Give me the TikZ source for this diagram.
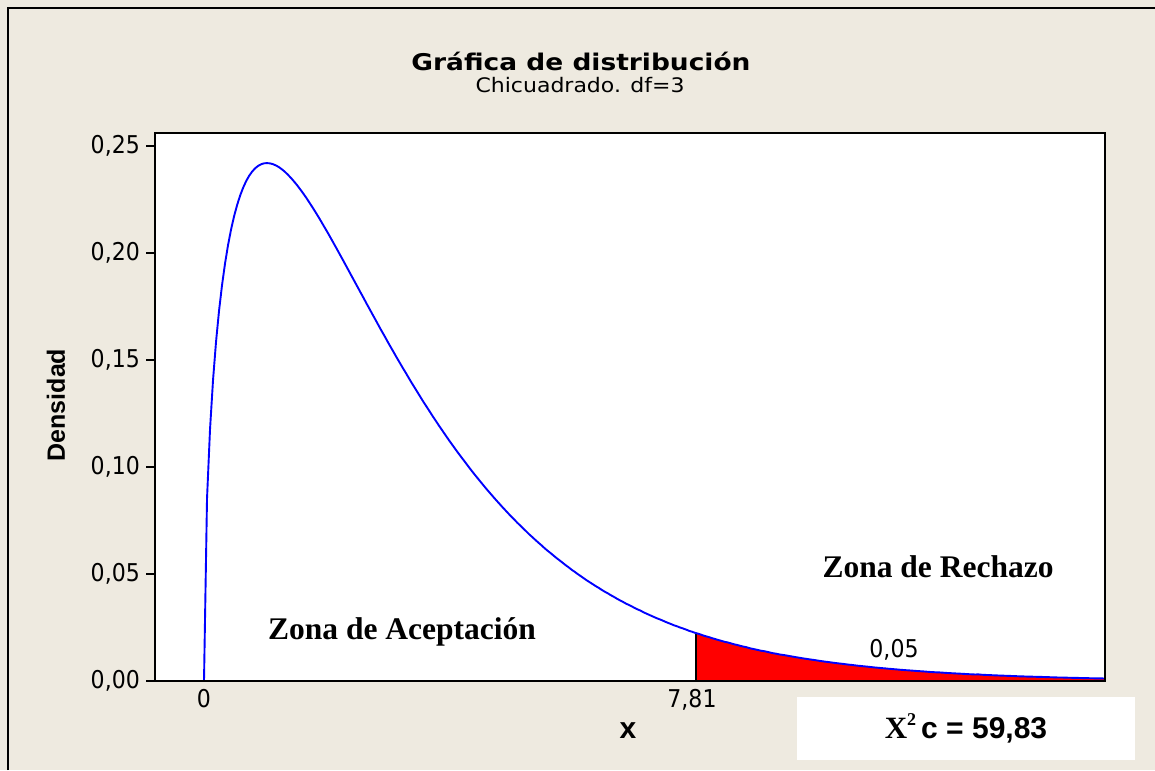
\documentclass[tikz,border=0pt]{standalone}
\usepackage{fontspec}
\newfontfamily\tah{DejaVu Sans}
\newfontfamily\ari{Liberation Sans}
\newfontfamily\tms{Liberation Serif}
\definecolor{bgbeige}{RGB}{238,234,224}
\begin{document}
\begin{tikzpicture}[x=1pt,y=1pt,
  declare function={chi(\t)=sqrt(\t)*exp(-\t/2)/2.5066;},
  frameline/.style={line width=1.8pt, black},
  ticklab/.style={font=\tah\fontsize{24.5}{28}\selectfont, inner sep=0pt, xscale=0.9},
  zonalab/.style={font=\tms\bfseries\fontsize{31.5}{36}\selectfont, inner sep=0pt},
  curveline/.style={blue, line width=1.9pt, line join=round}
]
\useasboundingbox (0,0) rectangle (1155,770);
\fill[bgbeige] (0,0) rectangle (1155,770);
% outer border (left and top)
\draw[line width=1.6pt] (8,0) -- (8,762) -- (1155,762);
% plot area
\fill[white] (155,89) rectangle (1105,637);
% red rejection region
\fill[red] (696,89) -- plot[domain=7.81:14.3, samples=80] ({204+63*\x},{89+2140*chi(\x)}) -- (1105,89) -- cycle;
% critical value line
\coordinate (critbase) at (696,89);
\coordinate (crittop) at ({696},{89+2140*chi(7.81)});
\draw[line width=1.4pt] (critbase) -- (crittop);
% density curve
\draw[curveline] (204,89) -- plot[domain=0:14.3, samples=300] ({204+63*\x},{89+2140*chi(\x)});
% frame
\draw[frameline] (155,89) rectangle (1105,637);
% y ticks
\foreach \yy in {89,196,303,410,517,624}{
  \draw[frameline] (146,\yy) -- (155,\yy);
}
\node[ticklab, anchor=base east] (y0) at (140,81) {0,00};
\node[ticklab, anchor=base east] (y1) at (140,188) {0,05};
\node[ticklab, anchor=base east] (y2) at (140,295) {0,10};
\node[ticklab, anchor=base east] (y3) at (140,402) {0,15};
\node[ticklab, anchor=base east] (y4) at (140,509) {0,20};
\node[ticklab, anchor=base east] (y5) at (140,616) {0,25};
% x tick labels
\node[ticklab, anchor=base] (x0) at (204,62) {0};
\node[ticklab, anchor=base] (x1) at (692,62) {7,81};
% axis labels
\node[font=\ari\bfseries\fontsize{30}{34}\selectfont, anchor=base, inner sep=0pt] (xlab) at (628,31) {x};
\node[font=\ari\bfseries\fontsize{25}{29}\selectfont, rotate=90, inner sep=0pt] (ylab) at (56,365) {Densidad};
% titles
\node[font=\tah\bfseries\fontsize{23}{27}\selectfont, anchor=base, inner sep=0pt, xscale=1.15] (title) at (581,699) {Gráfica de distribución};
\node[font=\tah\fontsize{20}{24}\selectfont, anchor=base, inner sep=0pt, xscale=1.1] (subtitle) at (580,677) {Chicuadrado. df=3};
% zone labels
\node[zonalab, anchor=base] (acep) at (402,130) {Zona de Aceptación};
\node[zonalab, anchor=base] (rech) at (938,192) {Zona de Rechazo};
\node[ticklab, anchor=base] (alpha) at (894,112) {0,05};
% result box
\fill[white] (797,10) rectangle (1135,73);
\node[anchor=base, inner sep=0pt] (res) at (966,31) {{\tms\bfseries\fontsize{31}{34}\selectfont X\raisebox{0.45em}{\fontsize{18}{20}\selectfont 2}}\hspace{5pt}{\ari\bfseries\fontsize{30}{34}\selectfont c = 59,83}};
\end{tikzpicture}
\end{document}
